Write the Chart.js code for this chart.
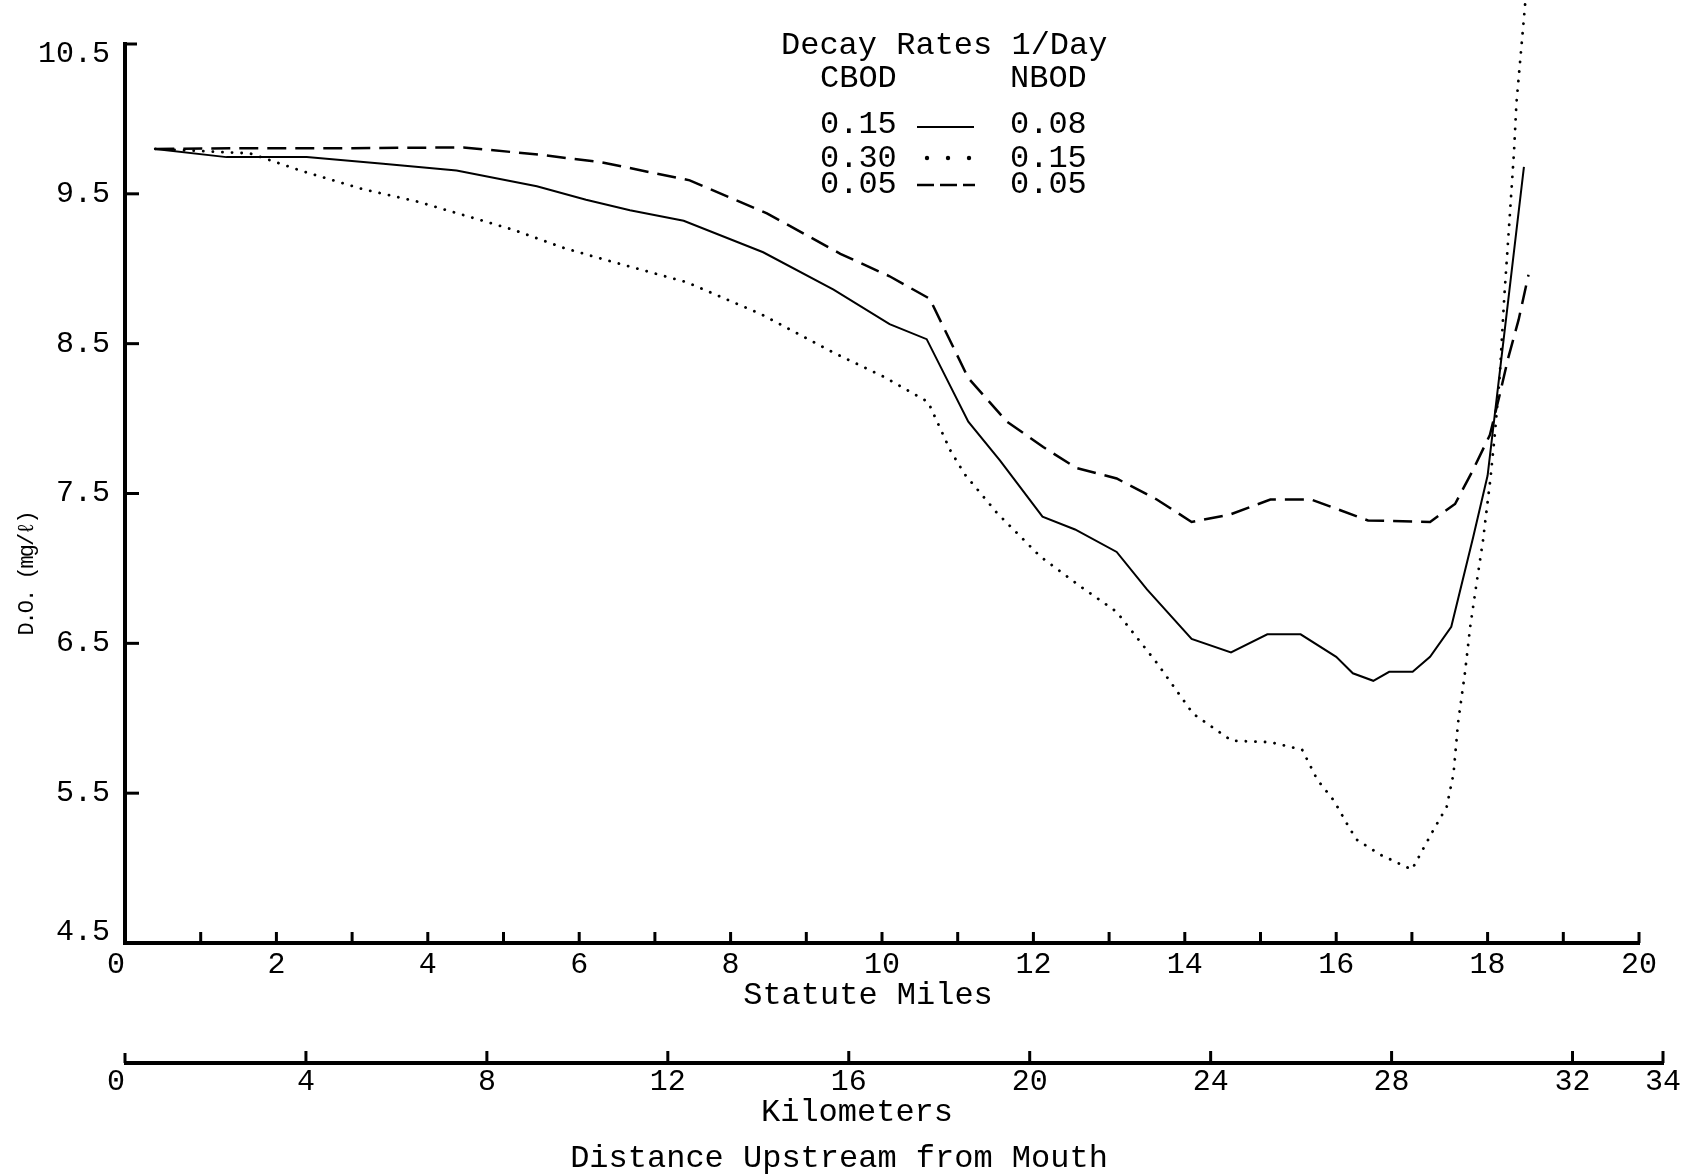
<!DOCTYPE html>
<html><head><meta charset="utf-8">
<script src="https://cdn.jsdelivr.net/npm/chart.js@4.4.0/dist/chart.umd.min.js"></script>
<style>html,body{margin:0;padding:0;background:#fff;}canvas{display:block;}</style>
</head><body>
<canvas id="c" width="1684" height="1175" style="width:1684px;height:1175px"></canvas>
<script>
// ---- tick labels ----
const mileTicks = [0,1,2,3,4,5,6,7,8,9,10,11,12,13,14,15,16,17,18,19,20];
const kmTicks = [0,4,8,12,16,20,24,28,32,34];
const doTicks = [4.5,5.5,6.5,7.5,8.5,9.5,10.5];

// ---- series: CBOD 0.15 / NBOD 0.08 (solid) ----
const solidMiles = [0.40,1.34,2.40,3.41,4.38,5.44,6.09,6.67,7.38,8.43,9.36,10.10,10.59,11.14,11.56,12.12,12.55,13.10,13.50,14.09,14.61,15.09,15.53,16.00,16.22,16.49,16.70,17.01,17.24,17.52,17.81,18.00,18.48];
const solidDO    = [9.80,9.745,9.745,9.70,9.655,9.55,9.46,9.39,9.32,9.11,8.86,8.63,8.53,7.98,7.72,7.345,7.26,7.11,6.86,6.53,6.44,6.56,6.56,6.41,6.30,6.25,6.31,6.31,6.41,6.61,7.21,7.62,9.68];

// ---- series: CBOD 0.30 / NBOD 0.15 (dotted) ----
const dottedMiles = [0.40,1.65,2.35,3.15,3.85,4.46,5.13,5.79,6.27,7.42,8.39,9.36,10.02,10.61,10.90,11.09,11.52,12.09,12.62,13.10,13.63,14.11,14.62,15.13,15.55,15.75,15.97,16.16,16.27,16.58,17.00,17.28,17.46,17.55,17.61,17.70,17.77,17.86,17.94,18.04,18.10,18.16,18.22,18.29,18.35,18.38,18.49,18.54];
const dottedDO    = [9.80,9.77,9.65,9.53,9.45,9.36,9.26,9.14,9.07,8.91,8.70,8.44,8.28,8.11,7.79,7.63,7.37,7.08,6.88,6.71,6.37,6.03,5.85,5.84,5.79,5.59,5.45,5.28,5.19,5.09,4.99,5.25,5.41,5.63,5.97,6.30,6.61,6.92,7.19,7.61,7.92,8.28,8.81,9.33,9.79,10.10,10.73,11.05];

// ---- series: CBOD 0.05 / NBOD 0.05 (dashed) ----
const dashedMiles = [0.40,1.50,3.00,4.47,5.50,6.30,7.46,8.48,9.45,10.10,10.63,11.14,11.65,12.13,12.57,13.10,13.63,14.09,14.60,15.13,15.67,16.42,17.24,17.57,17.80,18.03,18.16,18.27,18.41,18.54];
const dashedDO    = [9.80,9.805,9.805,9.81,9.76,9.71,9.59,9.37,9.10,8.95,8.80,8.27,7.98,7.81,7.67,7.60,7.46,7.31,7.36,7.46,7.46,7.32,7.31,7.43,7.65,7.89,8.16,8.40,8.66,8.96];

const FONT = "'Liberation Mono', 'Courier New', monospace";
const INK = '#000';
const zip = (xs, ys) => xs.map((x, i) => ({x: x, y: ys[i]}));

const decor = {
  id: 'decor',
  afterDraw(chart) {
    const ctx = chart.ctx;
    const x = chart.scales.x, y = chart.scales.y, k = chart.scales.x2;
    const ca = chart.chartArea;
    ctx.save();
    ctx.strokeStyle = INK; ctx.fillStyle = INK;
    ctx.lineCap = 'butt';
    // y axis line
    const yl = ca.left;
    ctx.lineWidth = 4;
    ctx.beginPath(); ctx.moveTo(yl, y.getPixelForValue(10.5) - 2); ctx.lineTo(yl, y.getPixelForValue(4.5) + 2); ctx.stroke();
    // y ticks (inward)
    ctx.lineWidth = 3;
    doTicks.forEach(v => { if (v === 4.5) return; const py = y.getPixelForValue(v); ctx.beginPath(); ctx.moveTo(yl, py); ctx.lineTo(yl + (v === 10.5 ? 12 : 14), py); ctx.stroke(); });
    // mile axis line
    const my = y.getPixelForValue(4.5);
    ctx.lineWidth = 4;
    ctx.beginPath(); ctx.moveTo(x.getPixelForValue(0) - 2, my); ctx.lineTo(x.getPixelForValue(20) + 1, my); ctx.stroke();
    ctx.lineWidth = 3;
    mileTicks.forEach(v => { if (v === 0) return; const px = x.getPixelForValue(v); ctx.beginPath(); ctx.moveTo(px, my); ctx.lineTo(px, my - 11); ctx.stroke(); });
    // km axis line
    const ky = k.top;
    ctx.lineWidth = 4;
    ctx.beginPath(); ctx.moveTo(k.getPixelForValue(0) - 1, ky); ctx.lineTo(k.getPixelForValue(34) + 1, ky); ctx.stroke();
    ctx.lineWidth = 3;
    kmTicks.forEach(v => { const px = k.getPixelForValue(v); ctx.beginPath(); ctx.moveTo(px, ky); ctx.lineTo(px, ky - (v === 0 ? 10 : 12)); ctx.stroke(); });

    // axis titles
    ctx.font = '32px ' + FONT;
    ctx.textAlign = 'center'; ctx.textBaseline = 'middle';
    ctx.fillText('Statute Miles', 868, 996);
    ctx.fillText('Kilometers', 857, 1113);
    ctx.fillText('Distance Upstream from Mouth', 839, 1159);
    ctx.save();
    ctx.font = '22px ' + FONT;
    try { ctx.letterSpacing = '-2px'; } catch (e) {}
    ctx.translate(27, 574); ctx.rotate(-Math.PI / 2);
    ctx.fillText('D.O. (mg/\u2113)', 0, 0);
    ctx.restore();

    // legend
    ctx.font = '32px ' + FONT;
    ctx.textAlign = 'left'; ctx.textBaseline = 'alphabetic';
    ctx.fillText('Decay Rates 1/Day', 781, 54);
    ctx.fillText('CBOD', 820, 87);
    ctx.fillText('NBOD', 1010, 87);
    ctx.fillText('0.15', 820, 133); ctx.fillText('0.08', 1010, 133);
    ctx.fillText('0.30', 820, 167); ctx.fillText('0.15', 1010, 167);
    ctx.fillText('0.05', 820, 193); ctx.fillText('0.05', 1010, 193);
    ctx.lineWidth = 2;
    ctx.beginPath(); ctx.moveTo(917, 127); ctx.lineTo(974, 127); ctx.stroke();
    [927, 948, 969].forEach(px => { ctx.beginPath(); ctx.arc(px, 158, 2.2, 0, Math.PI * 2); ctx.fill(); });
    ctx.lineWidth = 2.5;
    [[917, 934], [940, 957], [963, 975]].forEach(d => { ctx.beginPath(); ctx.moveTo(d[0], 185); ctx.lineTo(d[1], 185); ctx.stroke(); });
    ctx.restore();
  }
};

const tickFont = {family: FONT, size: 30};

new Chart(document.getElementById('c'), {
  type: 'line',
  data: {
    datasets: [
      {label: '0.15 / 0.08', data: zip(solidMiles, solidDO), borderColor: INK, borderWidth: 2, pointRadius: 0, tension: 0, clip: false},
      {label: '0.30 / 0.15', data: zip(dottedMiles, dottedDO), borderColor: INK, borderWidth: 2.8, borderDash: [0.1, 9.5], borderCapStyle: 'round', pointRadius: 0, tension: 0, clip: false},
      {label: '0.05 / 0.05', data: zip(dashedMiles, dashedDO), borderColor: INK, borderWidth: 2.5, borderDash: [19, 9], pointRadius: 0, tension: 0, clip: false}
    ]
  },
  options: {
    responsive: false,
    animation: false,
    devicePixelRatio: 1,
    layout: {padding: {left: 0, top: 44, right: 21, bottom: 0}},
    plugins: {legend: {display: false}, tooltip: {enabled: false}, title: {display: false}},
    scales: {
      x: {
        type: 'linear', position: 'bottom', weight: 0,
        min: 0, max: 20 * 1538 / 1514,
        grid: {display: false, drawTicks: false}, border: {display: false},
        afterBuildTicks: s => { s.ticks = mileTicks.map(v => ({value: v})); },
        afterFit: s => { s.height = 120; },
        ticks: {font: tickFont, color: INK, padding: 4, autoSkip: false, maxRotation: 0,
          callback: v => (v === 0 ? '0 ' : (v % 2 === 0 ? String(v) : ''))}
      },
      x2: {
        type: 'linear', position: 'bottom', weight: 1,
        min: 0, max: 34,
        grid: {display: false, drawTicks: false}, border: {display: false},
        afterBuildTicks: s => { s.ticks = kmTicks.map(v => ({value: v})); },
        afterFit: s => { s.height = 112; },
        ticks: {font: tickFont, color: INK, padding: 1, autoSkip: false, maxRotation: 0,
          callback: v => (v === 0 ? '0 ' : String(v))}
      },
      y: {
        type: 'linear', position: 'left',
        min: 4.5, max: 10.5,
        grid: {display: false, drawTicks: false}, border: {display: false},
        afterBuildTicks: s => { s.ticks = doTicks.map(v => ({value: v})); },
        afterFit: s => { s.width = 125; },
        ticks: {color: INK, padding: 15, autoSkip: false,
          font: c => ({family: FONT, size: 30,
            lineHeight: (c.tick && (c.tick.value === 10.5 || c.tick.value === 4.5)) ? '21px' : 1.2}),
          callback: v => (v === 10.5 ? ['', '10.5'] : (v === 4.5 ? ['4.5', ''] : v.toFixed(1)))}
      }
    }
  },
  plugins: [decor]
});
</script>
</body></html>
